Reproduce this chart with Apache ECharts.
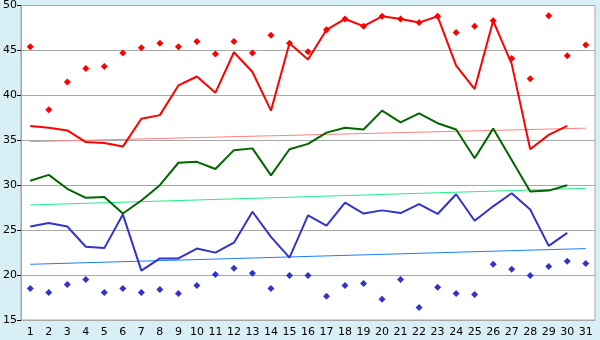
<!DOCTYPE html>
<html>
<head>
<meta charset="utf-8">
<script src="https://cdn.jsdelivr.net/npm/echarts@6/dist/echarts.min.js"></script>
<style>
  html, body { margin: 0; padding: 0; background: #d9eff6; }
  #chart { width: 600px; height: 340px; }
</style>
</head>
<body>
<div id="chart"></div>
<script>
const days = ['1','2','3','4','5','6','7','8','9','10','11','12','13','14','15','16',
  '17','18','19','20','21','22','23','24','25','26','27','28','29','30','31']

// daily lines (day 31 missing)
const redLine = [36.6, 36.4, 36.1, 34.8, 34.7, 34.3, 37.4, 37.8, 41.1, 42.1, 40.3, 44.8, 42.6, 38.3, 45.8, 44.0,
  47.3, 48.5, 47.7, 48.8, 48.5, 48.1, 48.8, 43.3, 40.7, 48.3, 43.5, 34.0, 35.6, 36.6, null]
const greenLine = [30.5, 31.15, 29.6, 28.6, 28.7, 26.85, 28.3, 30.0, 32.5, 32.6, 31.8, 33.9, 34.1, 31.1, 34.0, 34.6,
  35.85, 36.4, 36.2, 38.3, 37.0, 38.0, 36.9, 36.2, 33.0, 36.3, 32.8, 29.3, 29.4, 30.0, null]
const blueLine = [25.4, 25.8, 25.4, 23.15, 23.0, 26.75, 20.5, 21.85, 21.85, 22.95, 22.5, 23.6, 27.05, 24.25, 21.95, 26.65,
  25.5, 28.05, 26.85, 27.2, 26.9, 27.9, 26.8, 29.0, 26.05, 27.65, 29.1, 27.3, 23.25, 24.7, null]

// diamonds
const redPoints = [45.4, 38.4, 41.5, 43.0, 43.2, 44.7, 45.3, 45.8, 45.4, 46.0, 44.6, 46.0, 44.7, 46.7, 45.8, 44.85,
  47.3, 48.5, 47.7, 48.8, 48.5, 48.1, 48.8, 47.0, 47.7, 48.3, 44.1, 41.85, 48.85, 44.4, 45.6]
const bluePoints = [18.5, 18.05, 18.95, 19.5, 18.05, 18.5, 18.05, 18.4, 17.95, 18.85, 20.05, 20.75, 20.2, 18.5, 19.95, 19.95,
  17.65, 18.85, 19.05, 17.3, 19.5, 16.4, 18.65, 17.95, 17.85, 21.2, 20.65, 19.95, 20.95, 21.55, 21.3]

// trend lines, value at day 1 and day 31
const redTrend = [34.85, 36.35]
const greenTrend = [27.8, 29.65]
const blueTrend = [21.2, 22.95]

const yTicks = { min: 15, max: 50, step: 5 }

const font = 'DejaVu Sans'

const lineSeries = (data, color) => ({
  type: 'line',
  data: data,
  showSymbol: false,
  lineStyle: { color: color, width: 2 },
  itemStyle: { color: color },
  animation: false,
  z: 3
})

const trendSeries = (ends, color) => ({
  type: 'line',
  data: [[days[0], ends[0]], [days[days.length - 1], ends[1]]],
  showSymbol: false,
  lineStyle: { color: color, width: 1 },
  itemStyle: { color: color },
  animation: false,
  z: 2
})

const pointSeries = (data, color) => ({
  type: 'scatter',
  data: data,
  symbol: 'diamond',
  symbolSize: 7,
  itemStyle: { color: color, opacity: 1 },
  animation: false,
  z: 4
})

const chart = echarts.init(document.getElementById('chart'), null, { renderer: 'canvas' })
chart.setOption({
  backgroundColor: '#d9eff6',
  animation: false,
  grid: {
    left: 20, right: 5, top: 5, bottom: 20,
    show: true,
    backgroundColor: '#ffffff',
    borderColor: '#a8a8a8',
    borderWidth: 1
  },
  xAxis: {
    type: 'category',
    data: days,
    boundaryGap: true,
    axisLine: { lineStyle: { color: '#a8a8a8' } },
    axisTick: { alignWithLabel: true, length: 5, lineStyle: { color: '#000' } },
    axisLabel: { color: '#000', fontSize: 11, fontFamily: font, margin: 7, interval: 0 },
    splitLine: { show: false }
  },
  yAxis: {
    type: 'value',
    min: yTicks.min,
    max: yTicks.max,
    interval: yTicks.step,
    axisLine: { show: true, lineStyle: { color: '#a8a8a8' } },
    axisTick: { show: true, length: 4, lineStyle: { color: '#000' } },
    axisLabel: { color: '#000', fontSize: 11, fontFamily: font, margin: 4 },
    splitLine: { lineStyle: { color: '#a8a8a8' } }
  },
  series: [
    trendSeries(redTrend, '#ff8080'),
    trendSeries(greenTrend, '#22ee88'),
    trendSeries(blueTrend, '#1a80ff'),
    lineSeries(redLine, '#ff0000'),
    lineSeries(greenLine, '#006600'),
    lineSeries(blueLine, '#3333cc'),
    pointSeries(redPoints, '#ff0000'),
    pointSeries(bluePoints, '#3333cc')
  ]
})
</script>
</body>
</html>
